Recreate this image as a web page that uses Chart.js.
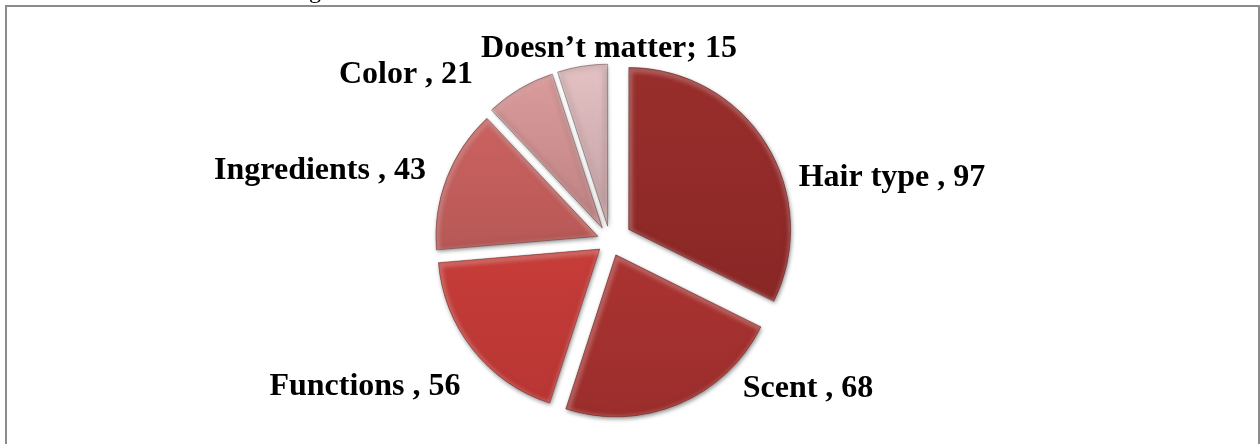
<!DOCTYPE html>
<html>
<head>
<meta charset="utf-8">
<style>
html, body { margin: 0; padding: 0; background: #fff; overflow: hidden; }
#frame { position: absolute; left: 5px; top: 5px; width: 1255px; height: 439px; box-sizing: border-box; border: 2px solid #8c8c8c; border-bottom: 0; }
#pie { position: absolute; left: 0; top: 0; }
</style>
<script src="https://cdn.jsdelivr.net/npm/chart.js@4/dist/chart.umd.min.js"></script>
</head>
<body>
<div id="frame"></div>
<!-- a bit taller than the window, the pie needs the room below for its offset -->
<canvas id="pie" width="1260" height="470"></canvas>
<script>
const categories = ['Hair type', 'Scent', 'Functions', 'Ingredients', 'Color', 'Doesn\u2019t matter'];
const values = [97, 68, 56, 43, 21, 15];
const separators = [' , ', ' , ', ' , ', ' , ', ' , ', '; '];

const topColors = ['#9c2f2d', '#c03b38', '#dc4540', '#d96866', '#e5a4a4', '#eecacc'];
const bottomColors = ['#802423', '#962c2b', '#b23432', '#9a4b49', '#965f62', '#94767a'];
const sliceOffsets = [88, 60, 52, 52, 60, 60];

// centre point of each label, in page pixels
const labelSpots = [[892, 178], [808, 389], [365, 387], [320, 171], [406, 75], [609, 49]];

// Chart.js grows a slice by its offset when the angle is small, keep them all the same size
const evenRadius = {
  id: 'evenRadius',
  beforeDatasetDraw(chart) {
    const meta = chart.getDatasetMeta(0);
    meta.data.forEach(arc => {
      const fix = 1 - Math.sin(Math.min(Math.PI, arc.circumference));
      arc.outerRadius = meta.controller.outerRadius - arc.options.offset / 4 * fix;
    });
    // soft shadow under the slices
    chart.ctx.save();
    chart.ctx.shadowColor = 'rgba(0,0,0,0.45)';
    chart.ctx.shadowBlur = 4;
    chart.ctx.shadowOffsetX = 1;
    chart.ctx.shadowOffsetY = 2;
  },
  afterDatasetDraw(chart) {
    chart.ctx.restore();
  }
};

// bevel round the edge of each slice
const bevel = {
  id: 'bevel',
  afterDatasetDraw(chart) {
    const c = chart.ctx;
    const r = chart.getDatasetMeta(0).controller.outerRadius;
    chart.getDatasetMeta(0).data.forEach((arc, i) => {
      const mid = (arc.startAngle + arc.endAngle) / 2;
      const off = arc.options.offset / 4;
      const x = arc.x + Math.cos(mid) * off;
      const y = arc.y + Math.sin(mid) * off;
      const trace = () => {
        c.beginPath();
        c.moveTo(x, y);
        c.arc(x, y, r, arc.startAngle, arc.endAngle);
        c.closePath();
      };
      c.save();
      trace();
      c.clip();
      c.lineJoin = 'round';
      // dark rim
      c.strokeStyle = bottomColors[i];
      c.globalAlpha = 0.4;
      c.lineWidth = 8;
      c.filter = 'blur(2px)';
      trace();
      c.stroke();
      // light rim, shifted down right so it only shows on the upper left edges
      c.globalAlpha = 0.35;
      c.strokeStyle = '#f7d9d6';
      c.lineWidth = 5;
      c.filter = 'blur(2px)';
      c.translate(1, 2);
      trace();
      c.stroke();
      c.restore();
      // thin dark outline
      c.save();
      c.strokeStyle = 'rgba(60,15,15,0.35)';
      c.lineWidth = 1;
      trace();
      c.stroke();
      c.restore();
    });
  }
};

const sliceLabels = {
  id: 'sliceLabels',
  afterDraw(chart) {
    const c = chart.ctx;
    c.save();
    c.font = 'bold 32px "Liberation Serif"';
    c.fillStyle = '#000';
    c.textAlign = 'center';
    c.textBaseline = 'middle';
    categories.forEach((name, i) => {
      c.fillText(name + separators[i] + values[i], labelSpots[i][0], labelSpots[i][1]);
    });
    // bottom of the line of text cut off above the frame
    c.font = '24px "Liberation Serif"';
    c.textAlign = 'left';
    c.textBaseline = 'alphabetic';
    c.fillText('g', 309, -2);
    c.restore();
  }
};

const ctx = document.getElementById('pie').getContext('2d');
new Chart(ctx, {
  type: 'pie',
  data: {
    labels: categories,
    datasets: [{
      data: values,
      backgroundColor(context) {
        const area = context.chart.chartArea;
        if (!area) return topColors[context.dataIndex];
        const g = context.chart.ctx.createLinearGradient(0, area.top, 0, area.bottom);
        g.addColorStop(0, topColors[context.dataIndex]);
        g.addColorStop(1, bottomColors[context.dataIndex]);
        return g;
      },
      borderWidth: 0,
      offset: sliceOffsets
    }]
  },
  plugins: [evenRadius, bevel, sliceLabels],
  options: {
    responsive: false,
    animation: false,
    layout: { padding: { left: 0, right: 40, top: 35, bottom: 23 } },
    plugins: { legend: { display: false }, tooltip: { enabled: false } }
  }
});
</script>
</body>
</html>
